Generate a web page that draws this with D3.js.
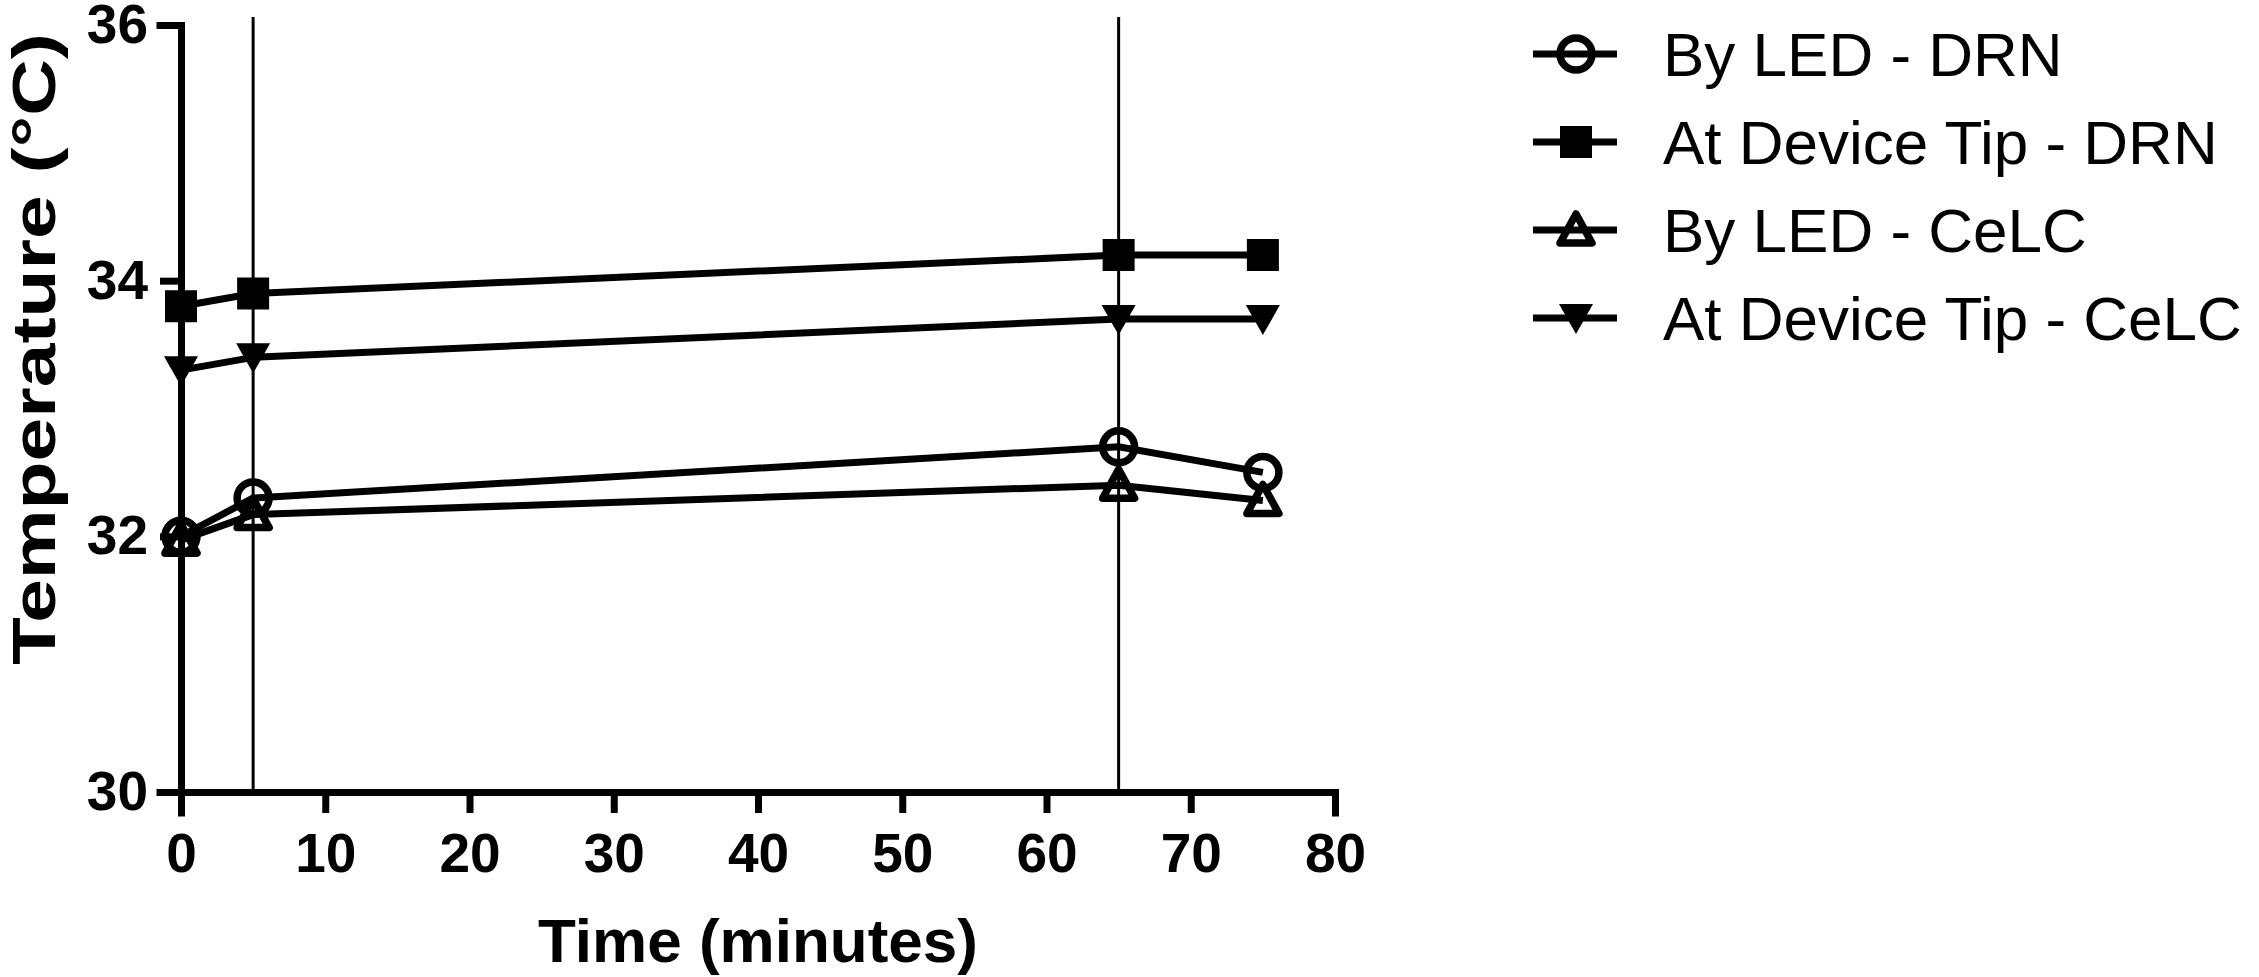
<!DOCTYPE html>
<html>
<head>
<meta charset="utf-8">
<script src="https://cdn.jsdelivr.net/npm/d3@7"></script>
<style>
  body { margin: 0; background: #fff; }
  text { font-family: Arial, "Liberation Sans", sans-serif; }
</style>
</head>
<body>
<script>
// data
var times = [0, 5, 65, 75];
var seriesNames = ['By LED - DRN', 'At Device Tip - DRN', 'By LED - CeLC', 'At Device Tip - CeLC'];
var byLedDRN = [32.0, 32.3, 32.7, 32.5];
var tipDRN = [33.8, 33.9, 34.2, 34.2];
var byLedCeLC = [31.97, 32.17, 32.4, 32.28];
var tipCeLC = [33.3, 33.4, 33.7, 33.7];
var markerKinds = ['circle', 'square', 'triUp', 'triDown'];
var lightTimes = [5, 65];   // thin vertical lines
var xTicks = [0, 10, 20, 30, 40, 50, 60, 70, 80];
var yTicks = [30, 32, 34, 36];

var W = 2259, H = 977;
var left = 181, right = 1335, top_ = 25, bottom = 792;

var svg = d3.select('body').append('svg').attr('width', W).attr('height', H);

var x = d3.scaleLinear().domain([0, 80]).range([left, right]);
var y = d3.scaleLinear().domain([30, 36]).range([bottom, top_]);

var allSeries = [byLedDRN, tipDRN, byLedCeLC, tipCeLC];

// marker shapes, centred on 0,0
function markerPath(kind) {
	if (kind == 'square') return 'M-16,-16H16V16H-16Z';
	if (kind == 'triUp') return 'M0,-16L16,13H-16Z';
	if (kind == 'triDown') return 'M-17,-14H17L0,16Z';
	return null;
}
function drawMarker(g, kind, cx, cy) {
	if (kind == 'circle') {
		g.append('circle').attr('cx', cx).attr('cy', cy).attr('r', 16)
			.attr('fill', 'none').attr('stroke', '#000').attr('stroke-width', 7.5);
	} else if (kind == 'triUp') {
		g.append('path').attr('d', markerPath(kind)).attr('transform', 'translate(' + cx + ',' + cy + ')')
			.attr('fill', 'none').attr('stroke', '#000').attr('stroke-width', 7.5).attr('stroke-linejoin', 'round');
	} else {
		g.append('path').attr('d', markerPath(kind)).attr('transform', 'translate(' + cx + ',' + cy + ')')
			.attr('fill', '#000');
	}
}

// axes
var xAxis = svg.append('g').attr('transform', 'translate(0,' + bottom + ')')
	.call(d3.axisBottom(x).tickValues(xTicks).tickSize(21).tickPadding(20).tickFormat(d3.format('d')));
var yAxis = svg.append('g').attr('transform', 'translate(' + left + ',0)')
	.call(d3.axisLeft(y).tickValues(yTicks).tickSize(21).tickPadding(12).tickFormat(d3.format('d')));

[xAxis, yAxis].forEach(function(a) {
	a.select('.domain').attr('stroke', '#000').attr('stroke-width', 7).attr('stroke-linecap', 'square');
	a.selectAll('.tick line').attr('stroke', '#000').attr('stroke-width', 7);
	a.selectAll('.tick text').attr('fill', '#000').attr('font-size', 55).attr('font-weight', 'bold')
		.attr('font-family', 'Arial, "Liberation Sans", sans-serif');
});

// thin vertical lines at light on / off
svg.append('g').selectAll('line').data(lightTimes).enter().append('line')
	.attr('x1', d => x(d)).attr('x2', d => x(d))
	.attr('y1', top_ - 8).attr('y2', bottom)
	.attr('stroke', '#000').attr('stroke-width', 3);

// series lines + markers
var line = d3.line().x((d, i) => x(times[i])).y(d => y(d));
allSeries.forEach(function(s, k) {
	var g = svg.append('g');
	g.append('path').attr('d', line(s)).attr('fill', 'none')
		.attr('stroke', '#000').attr('stroke-width', 7);
	s.forEach(function(v, i) { drawMarker(g, markerKinds[k], x(times[i]), y(v)); });
});

// axis titles
svg.append('text').attr('x', (left + right) / 2).attr('y', 962)
	.attr('text-anchor', 'middle').attr('font-size', 62).attr('font-weight', 'bold')
	.text('Time (minutes)');
svg.append('text').attr('transform', 'translate(55,349) rotate(-90)')
	.attr('text-anchor', 'middle').attr('font-size', 62).attr('font-weight', 'bold')
	.attr('textLength', 632).attr('lengthAdjust', 'spacingAndGlyphs')
	.text('Temperature (\u00B0C)');

// legend
var leg = svg.append('g');
seriesNames.forEach(function(name, k) {
	var cy = 54 + k * 88;
	leg.append('line').attr('x1', 1533).attr('x2', 1617).attr('y1', cy).attr('y2', cy)
		.attr('stroke', '#000').attr('stroke-width', 7);
	drawMarker(leg, markerKinds[k], 1576, cy);
	leg.append('text').attr('x', 1663).attr('y', cy + 22).attr('font-size', 62).text(name);
});
</script>
</body>
</html>
